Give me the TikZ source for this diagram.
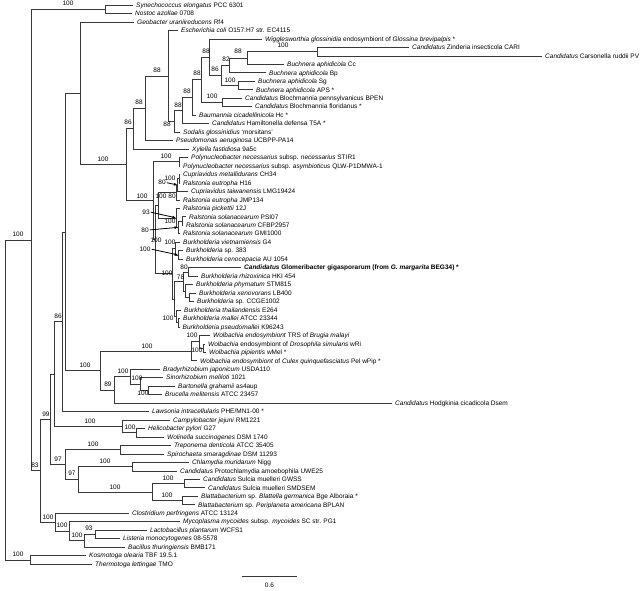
\documentclass[tikz,border=0pt]{standalone}
\usepackage{fontspec}
\setmainfont{Liberation Sans}
\usetikzlibrary{arrows.meta}
\pgfmathdeclarefunction{leafy}{1}{\pgfmathparse{5+(#1-1)*8.47}}
\begin{document}
\begin{tikzpicture}[x=1pt,y=-1pt,
  leaf/.style={anchor=west, inner xsep=3pt, inner ysep=0pt, text height=4.6pt, text depth=0pt, font=\fontsize{6.5}{7}\selectfont},
  bs/.style={inner sep=0pt, font=\fontsize{6.5}{7}\selectfont},
  br/.style={draw=black!78, line width=0.6pt},
  arr/.style={draw=black, line width=0.8pt, shorten <=1pt, -{Latex[length=3.5pt,width=3pt]}}]
\useasboundingbox (0,0) rectangle (640,590);
\fill[white] (0,0) rectangle (640,590);
% ---------- leaves ----------
\node[leaf] (l1) at (133,{leafy(1)}) {\textit{Synechococcus elongatus} PCC 6301};
\node[leaf] (l2) at (132,{leafy(2)}) {\textit{Nostoc azollae} 0708};
\node[leaf] (l3) at (134,{leafy(3)}) {\textit{Geobacter uraniireducens} Rf4};
\node[leaf] (l4) at (178,{leafy(4)}) {\textit{Escherichia coli} O157:H7 str. EC4115};
\node[leaf] (l5) at (262,{leafy(5)}) {\textit{Wigglesworthia glossinidia} endosymbiont of \textit{Glossina brevipalpis} *};
\node[leaf] (l6) at (409,{leafy(6)}) {\textit{Candidatus} Zinderia insecticola CARI};
\node[leaf] (l7) at (542,{leafy(7)}) {\textit{Candidatus} Carsonella ruddii PV};
\node[leaf] (l8) at (284,{leafy(8)}) {\textit{Buchnera aphidicola} Cc};
\node[leaf] (l9) at (266,{leafy(9)}) {\textit{Buchnera aphidicola} Bp};
\node[leaf] (l10) at (255,{leafy(10)}) {\textit{Buchnera aphidicola} Sg};
\node[leaf] (l11) at (253,{leafy(11)}) {\textit{Buchnera aphidicola} APS *};
\node[leaf] (l12) at (242,{leafy(12)}) {\textit{Candidatus} Blochmannia pennsylvanicus BPEN};
\node[leaf] (l13) at (252,{leafy(13)}) {\textit{Candidatus} Blochmannia floridanus *};
\node[leaf] (l14) at (196,{leafy(14)}) {\textit{Baumannia cicadellinicola} Hc *};
\node[leaf] (l15) at (209,{leafy(15)}) {\textit{Candidatus} Hamiltonella defensa T5A *};
\node[leaf] (l16) at (180,{leafy(16)}) {\textit{Sodalis glossinidius} `morsitans'};
\node[leaf] (l17) at (173,{leafy(17)}) {\textit{Pseudomonas aeruginosa} UCBPP-PA14};
\node[leaf] (l18) at (189,{leafy(18)}) {\textit{Xylella fastidiosa} 9a5c};
\node[leaf] (l19) at (188,{leafy(19)}) {\textit{Polynucleobacter necessarius} subsp. \textit{necessarius} STIR1};
\node[leaf] (l20) at (180,{leafy(20)}) {\textit{Polynucleobacter necessarius} subsp. \textit{asymbioticus} QLW-P1DMWA-1};
\node[leaf] (l21) at (180,{leafy(21)}) {\textit{Cupriavidus metallidurans} CH34};
\node[leaf] (l22) at (180,{leafy(22)}) {\textit{Ralstonia eutropha} H16};
\node[leaf] (l23) at (188,{leafy(23)}) {\textit{Cupriavidus taiwanensis} LMG19424};
\node[leaf] (l24) at (180,{leafy(24)}) {\textit{Ralstonia eutropha} JMP134};
\node[leaf] (l25) at (180,{leafy(25)}) {\textit{Ralstonia pickettii} 12J};
\node[leaf] (l26) at (186,{leafy(26)}) {\textit{Ralstonia solanacearum} PSI07};
\node[leaf] (l27) at (183,{leafy(27)}) {\textit{Ralstonia solanacearum} CFBP2957};
\node[leaf] (l28) at (180,{leafy(28)}) {\textit{Ralstonia solanacearum} GMI1000};
\node[leaf] (l29) at (180,{leafy(29)}) {\textit{Burkholderia vietnamiensis} G4};
\node[leaf] (l30) at (183,{leafy(30)}) {\textit{Burkholderia} sp. 383};
\node[leaf] (l31) at (183,{leafy(31)}) {\textit{Burkholderia cenocepacia} AU 1054};
\node[leaf] (l32) at (241,{leafy(32)}) {\textbf{\textit{Candidatus} Glomeribacter gigasporarum (from \textit{G. margarita} BEG34) *}};
\node[leaf] (l33) at (198,{leafy(33)}) {\textit{Burkholderia rhizoxinica} HKI 454};
\node[leaf] (l34) at (193,{leafy(34)}) {\textit{Burkholderia phymatum} STM815};
\node[leaf] (l35) at (196,{leafy(35)}) {\textit{Burkholderia xenovorans} LB400};
\node[leaf] (l36) at (194,{leafy(36)}) {\textit{Burkholderia} sp. CCGE1002};
\node[leaf] (l37) at (181,{leafy(37)}) {\textit{Burkholderia thailandensis} E264};
\node[leaf] (l38) at (180,{leafy(38)}) {\textit{Burkholderia mallei} ATCC 23344};
\node[leaf] (l39) at (179.5,{leafy(39)}) {\textit{Burkholderia pseudomallei} K96243};
\node[leaf] (l40) at (210,{leafy(40)}) {\textit{Wolbachia endosymbiont} TRS of \textit{Brugia malayi}};
\node[leaf] (l41) at (205,{leafy(41)}) {\textit{Wolbachia} endosymbiont of \textit{Drosophila simulans} wRi};
\node[leaf] (l42) at (206,{leafy(42)}) {\textit{Wolbachia pipientis} wMel *};
\node[leaf] (l43) at (197,{leafy(43)}) {\textit{Wolbachia endosymbiont} of \textit{Culex quinquefasciatus} Pel wPip *};
\node[leaf] (l44) at (160,{leafy(44)}) {\textit{Bradyrhizobium japonicum} USDA110};
\node[leaf] (l45) at (163,{leafy(45)}) {\textit{Sinorhizobium meliloti} 1021};
\node[leaf] (l46) at (175,{leafy(46)}) {\textit{Bartonella grahamii} as4aup};
\node[leaf] (l47) at (162,{leafy(47)}) {\textit{Brucella melitensis} ATCC 23457};
\node[leaf] (l48) at (392,{leafy(48)}) {\textit{Candidatus} Hodgkinia cicadicola Dsem};
\node[leaf] (l49) at (149,{leafy(49)}) {\textit{Lawsonia intracellularis} PHE/MN1-00 *};
\node[leaf] (l50) at (170,{leafy(50)}) {\textit{Campylobacter jejuni} RM1221};
\node[leaf] (l51) at (145,{leafy(51)}) {\textit{Helicobacter pylori} G27};
\node[leaf] (l52) at (164,{leafy(52)}) {\textit{Wolinella succinogenes} DSM 1740};
\node[leaf] (l53) at (171,{leafy(53)}) {\textit{Treponema denticola} ATCC 35405};
\node[leaf] (l54) at (164,{leafy(54)}) {\textit{Spirochaeta smaragdinae} DSM 11293};
\node[leaf] (l55) at (189,{leafy(55)}) {\textit{Chlamydia muridarum} Nigg};
\node[leaf] (l56) at (177,{leafy(56)}) {\textit{Candidatus} Protochlamydia amoebophila UWE25};
\node[leaf] (l57) at (200,{leafy(57)}) {\textit{Candidatus} Sulcia muelleri GWSS};
\node[leaf] (l58) at (205,{leafy(58)}) {\textit{Candidatus} Sulcia muelleri SMDSEM};
\node[leaf] (l59) at (198,{leafy(59)}) {\textit{Blattabacterium} sp. \textit{Blattella germanica} Bge Alboraia *};
\node[leaf] (l60) at (195,{leafy(60)}) {\textit{Blattabacterium} sp. \textit{Periplaneta americana} BPLAN};
\node[leaf] (l61) at (129,{leafy(61)}) {\textit{Clostridium perfringens} ATCC 13124};
\node[leaf] (l62) at (180,{leafy(62)}) {\textit{Mycoplasma mycoides} subsp. \textit{mycoides} SC str. PG1};
\node[leaf] (l63) at (147,{leafy(63)}) {\textit{Lactobacillus plantarum} WCFS1};
\node[leaf] (l64) at (120,{leafy(64)}) {\textit{Listeria monocytogenes} 08-5578};
\node[leaf] (l65) at (125,{leafy(65)}) {\textit{Bacillus thuringiensis} BMB171};
\node[leaf] (l66) at (86,{leafy(66)}) {\textit{Kosmotoga olearia} TBF 19.5.1};
\node[leaf] (l67) at (92,{leafy(67)}) {\textit{Thermotoga lettingae} TMO};
% ---------- internal nodes ----------
\coordinate (R0) at (5,399.9);
\coordinate (R1) at (31,240.0);
\coordinate (Th) at (30,559.79);
\coordinate (nSN) at (105,9.24);
\coordinate (N83) at (40,470.75);
\coordinate (N99) at (50,419.29);
\coordinate (F) at (55,522.20);
\coordinate (F2) at (69,531.20);
\coordinate (F3) at (84,540.73);
\coordinate (F4) at (95,534.38);
\coordinate (N54) at (54,374.06);
\coordinate (N97a) at (65,464.51);
\coordinate (Sp) at (120,449.68);
\coordinate (N97b) at (78,479.33);
\coordinate (Ch) at (132,466.62);
\coordinate (Bac) at (152,492.03);
\coordinate (Su) at (184,483.56);
\coordinate (Bl) at (182,500.50);
\coordinate (Eps) at (122,426.38);
\coordinate (HW) at (136,432.74);
\coordinate (N86) at (62,321.73);
\coordinate (Z) at (65,231.90);
\coordinate (N100a) at (100,370.54);
\coordinate (W) at (191,351.22);
\coordinate (W2) at (199,341.69);
\coordinate (W1) at (203,348.04);
\coordinate (Al89) at (114,389.86);
\coordinate (Rh) at (130,376.62);
\coordinate (Si) at (140,384.03);
\coordinate (Ba) at (148,390.39);
\coordinate (P) at (80,93.26);
\coordinate (A) at (126,164.57);
\coordinate (n133) at (133,128.59);
\coordinate (n145) at (145,108.19);
\coordinate (n168) at (168,75.85);
\coordinate (n174) at (174,121.29);
\coordinate (n182) at (182,110.52);
\coordinate (n192) at (192,97.45);
\coordinate (n201) at (201,79.78);
\coordinate (nBl) at (222,102.41);
\coordinate (n209) at (209,57.15);
\coordinate (n221) at (221,75.41);
\coordinate (nBsa) at (238,85.47);
\coordinate (n229) at (229,65.35);
\coordinate (n247) at (247,57.94);
\coordinate (nZC) at (317,51.59);
\coordinate (C) at (153,200.55);
\coordinate (Pn) at (179,161.70);
\coordinate (Be1) at (155,239.39);
\coordinate (RC) at (158,205.11);
\coordinate (Cu3) at (176,192.40);
\coordinate (Cu2) at (177.5,184.99);
\coordinate (Cu1) at (179,178.64);
\coordinate (Ra3) at (176,217.81);
\coordinate (Ra2) at (178,227.34);
\coordinate (Ra1) at (182,220.99);
\coordinate (Bu2) at (172,273.66);
\coordinate (Bc2) at (175,248.51);
\coordinate (Bc1) at (178,254.87);
\coordinate (Bu1) at (174.5,298.80);
\coordinate (Gl2) at (183,281.34);
\coordinate (Gl) at (188,271.81);
\coordinate (Ph2) at (185,290.86);
\coordinate (Ph1) at (189,297.22);
\coordinate (Ma2) at (176,316.27);
\coordinate (Ma1) at (178,322.62);
% ---------- branches ----------
\draw[br] (R0) |- (R1); \draw[br] (R0) |- (Th);
\draw[br] (Th) |- (l66.west); \draw[br] (Th) |- (l67.west);
\draw[br] (R1) |- (nSN); \draw[br] (R1) |- (N83);
\draw[br] (nSN) |- (l1.west); \draw[br] (nSN) |- (l2.west);
\draw[br] (N83) |- (N99); \draw[br] (N83) |- (F);
\draw[br] (F) |- (l61.west); \draw[br] (F) |- (F2);
\draw[br] (F2) |- (l62.west); \draw[br] (F2) |- (F3);
\draw[br] (F3) |- (F4); \draw[br] (F3) |- (l65.west);
\draw[br] (F4) |- (l63.west); \draw[br] (F4) |- (l64.west);
\draw[br] (N99) |- (N54); \draw[br] (N99) |- (N97a);
\draw[br] (N97a) |- (Sp); \draw[br] (N97a) |- (N97b);
\draw[br] (Sp) |- (l53.west); \draw[br] (Sp) |- (l54.west);
\draw[br] (N97b) |- (Ch); \draw[br] (N97b) |- (Bac);
\draw[br] (Ch) |- (l55.west); \draw[br] (Ch) |- (l56.west);
\draw[br] (Bac) |- (Su); \draw[br] (Bac) |- (Bl);
\draw[br] (Su) |- (l57.west); \draw[br] (Su) |- (l58.west);
\draw[br] (Bl) |- (l59.west); \draw[br] (Bl) |- (l60.west);
\draw[br] (N54) |- (N86); \draw[br] (N54) |- (Eps);
\draw[br] (Eps) |- (l50.west); \draw[br] (Eps) |- (HW);
\draw[br] (HW) |- (l51.west); \draw[br] (HW) |- (l52.west);
\draw[br] (N86) |- (Z); \draw[br] (N86) |- (l49.west);
\draw[br] (Z) |- (P); \draw[br] (Z) |- (N100a);
\draw[br] (N100a) |- (W); \draw[br] (N100a) |- (Al89);
\draw[br] (W) |- (W2); \draw[br] (W) |- (l43.west);
\draw[br] (W2) |- (l40.west); \draw[br] (W2) |- (W1);
\draw[br] (W1) |- (l41.west); \draw[br] (W1) |- (l42.west);
\draw[br] (Al89) |- (Rh); \draw[br] (Al89) |- (l48.west);
\draw[br] (Rh) |- (l44.west); \draw[br] (Rh) |- (Si);
\draw[br] (Si) |- (l45.west); \draw[br] (Si) |- (Ba);
\draw[br] (Ba) |- (l46.west); \draw[br] (Ba) |- (l47.west);
\draw[br] (P) |- (l3.west); \draw[br] (P) |- (A);
\draw[br] (A) |- (n133); \draw[br] (A) |- (C);
\draw[br] (n133) |- (n145); \draw[br] (n133) |- (l18.west);
\draw[br] (n145) |- (n168); \draw[br] (n145) |- (l17.west);
\draw[br] (n168) |- (l4.west); \draw[br] (n168) |- (n174);
\draw[br] (n174) |- (n182); \draw[br] (n174) |- (l16.west);
\draw[br] (n182) |- (n192); \draw[br] (n182) |- (l15.west);
\draw[br] (n192) |- (n201); \draw[br] (n192) |- (l14.west);
\draw[br] (n201) |- (n209); \draw[br] (n201) |- (nBl);
\draw[br] (nBl) |- (l12.west); \draw[br] (nBl) |- (l13.west);
\draw[br] (n209) |- (l5.west); \draw[br] (n209) |- (n221);
\draw[br] (n221) |- (n229); \draw[br] (n221) |- (nBsa);
\draw[br] (nBsa) |- (l10.west); \draw[br] (nBsa) |- (l11.west);
\draw[br] (n229) |- (n247); \draw[br] (n229) |- (l9.west);
\draw[br] (n247) |- (nZC); \draw[br] (n247) |- (l8.west);
\draw[br] (nZC) |- (l6.west); \draw[br] (nZC) |- (l7.west);
\draw[br] (C) |- (Pn); \draw[br] (C) |- (Be1);
\draw[br] (Pn) |- (l19.west); \draw[br] (Pn) |- (l20.west);
\draw[br] (Be1) |- (RC); \draw[br] (Be1) |- (Bu2);
\draw[br] (RC) |- (Cu3); \draw[br] (RC) |- (Ra3);
\draw[br] (Cu3) |- (Cu2); \draw[br] (Cu3) |- (l24.west);
\draw[br] (Cu2) |- (Cu1); \draw[br] (Cu2) |- (l23.west);
\draw[br] (Cu1) |- (l21.west); \draw[br] (Cu1) |- (l22.west);
\draw[br] (Ra3) |- (l25.west); \draw[br] (Ra3) |- (Ra2);
\draw[br] (Ra2) |- (Ra1); \draw[br] (Ra2) |- (l28.west);
\draw[br] (Ra1) |- (l26.west); \draw[br] (Ra1) |- (l27.west);
\draw[br] (Bu2) |- (Bc2); \draw[br] (Bu2) |- (Bu1);
\draw[br] (Bc2) |- (l29.west); \draw[br] (Bc2) |- (Bc1);
\draw[br] (Bc1) |- (l30.west); \draw[br] (Bc1) |- (l31.west);
\draw[br] (Bu1) |- (Gl2); \draw[br] (Bu1) |- (Ma2);
\draw[br] (Gl2) |- (Gl); \draw[br] (Gl2) |- (Ph2);
\draw[br] (Gl) |- (l32.west); \draw[br] (Gl) |- (l33.west);
\draw[br] (Ph2) |- (l34.west); \draw[br] (Ph2) |- (Ph1);
\draw[br] (Ph1) |- (l35.west); \draw[br] (Ph1) |- (l36.west);
\draw[br] (Ma2) |- (l37.west); \draw[br] (Ma2) |- (Ma1);
\draw[br] (Ma1) |- (l38.west); \draw[br] (Ma1) |- (l39.west);
% ---------- support values ----------
\node[bs] (b1) at (68,3.5) {100};
\node[bs] (b2) at (18,234) {100};
\node[bs] (b3) at (18,554.5) {100};
\node[bs] (b4) at (103,159) {100};
\node[bs] (b5) at (128,122.7) {86};
\node[bs] (b6) at (139,102.7) {88};
\node[bs] (b7) at (157,70.7) {88};
\node[bs] (b8) at (167,124.5) {88};
\node[bs] (b9) at (178,105) {88};
\node[bs] (b10) at (187,91) {88};
\node[bs] (b11) at (197,73.3) {88};
\node[bs] (b12) at (212,96.7) {100};
\node[bs] (b13) at (206,51.7) {88};
\node[bs] (b14) at (215,69.3) {86};
\node[bs] (b15) at (226,59.3) {82};
\node[bs] (b16) at (238,51.7) {88};
\node[bs] (b17) at (283,45.7) {100};
\node[bs] (b18) at (230,80) {100};
\node[bs] (b19) at (142,196) {100};
\node[bs] (b20) at (166,156) {100};
\node[bs] (b21) at (170,178) {100};
\node[bs] (b22) at (162,182.5) {80};
\node[bs] (b23) at (161,196) {100};
\node[bs] (b24) at (172,196) {80};
\node[bs] (b25) at (146,212) {93};
\node[bs] (b26) at (145,230) {80};
\node[bs] (b27) at (170,221) {100};
\node[bs] (b28) at (156,240) {100};
\node[bs] (b29) at (170,242.5) {100};
\node[bs] (b30) at (145,249) {100};
\node[bs] (b31) at (167,273) {100};
\node[bs] (b32) at (184,267) {80};
\node[bs] (b33) at (180.5,277) {78};
\node[bs] (b34) at (168,318) {100};
\node[bs] (b35) at (147,346) {100};
\node[bs] (b36) at (192,335.5) {100};
\node[bs] (b37) at (197,350) {100};
\node[bs] (b38) at (85,365) {100};
\node[bs] (b39) at (123,371) {100};
\node[bs] (b40) at (137,378) {100};
\node[bs] (b41) at (143,393) {100};
\node[bs] (b42) at (108,384) {89};
\node[bs] (b43) at (58,316) {86};
\node[bs] (b44) at (46,414) {99};
\node[bs] (b45) at (90,421) {100};
\node[bs] (b46) at (130,427) {100};
\node[bs] (b47) at (93,444) {100};
\node[bs] (b48) at (58,459) {97};
\node[bs] (b49) at (72,473) {97};
\node[bs] (b50) at (105,461) {100};
\node[bs] (b51) at (115,487) {100};
\node[bs] (b52) at (168,478) {100};
\node[bs] (b53) at (167,495) {100};
\node[bs] (b54) at (35,465) {83};
\node[bs] (b55) at (48,517) {100};
\node[bs] (b56) at (62,525) {100};
\node[bs] (b57) at (77,535) {100};
\node[bs] (b58) at (89,528) {93};
% ---------- pointer arrows ----------
\draw[arr] (b22.east) -- (Cu2);
\draw[arr] (b25.east) -- (Ra3);
\draw[arr] (b26.east) -- (Ra2);
\draw[arr] (b30.east) -- (Bc1);
% ---------- scale bar ----------
\coordinate (s1) at (242,576);
\coordinate (s2) at (297,576);
\draw[br] (s1) -- (s2);
\node[bs] (sl) at (269.5,585.5) {0.6};
\end{tikzpicture}
\end{document}
